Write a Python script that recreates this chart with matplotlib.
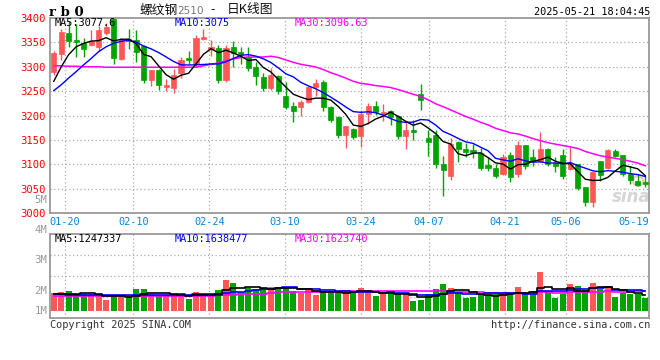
import numpy as np
import pandas as pd
import matplotlib
matplotlib.use("Agg")
import matplotlib.pyplot as plt
from matplotlib.patches import Ellipse

# ---------------- data ----------------
opens = [3290, 3327, 3370, 3355, 3349, 3345, 3341, 3370, 3398, 3316,
         3356, 3355, 3342, 3272, 3293, 3258, 3257, 3287, 3317, 3305,
         3357, 3337, 3338, 3272, 3340, 3331, 3320, 3299, 3280, 3257,
         3281, 3240, 3220, 3217, 3228, 3258, 3268, 3217, 3197, 3161,
         3173, 3158, 3204, 3220, 3204, 3210, 3199, 3158, 3171, 3245,
         3154, 3159, 3101, 3075, 3146, 3131, 3129, 3124, 3098, 3092,
         3081, 3118, 3080, 3139, 3114, 3106, 3131, 3102, 3120, 3090,
         3101, 3053, 3022, 3107, 3092, 3127, 3120, 3081, 3066, 3063]
highs = [3332, 3377, 3393, 3388, 3359, 3375, 3384, 3390, 3402, 3358,
         3377, 3375, 3345, 3294, 3295, 3275, 3295, 3320, 3333, 3365,
         3377, 3354, 3345, 3345, 3353, 3340, 3340, 3310, 3287, 3298,
         3284, 3268, 3227, 3232, 3260, 3275, 3273, 3219, 3198, 3179,
         3175, 3212, 3226, 3230, 3224, 3212, 3202, 3188, 3190, 3265,
         3171, 3171, 3116, 3154, 3147, 3144, 3141, 3133, 3114, 3100,
         3121, 3125, 3148, 3139, 3131, 3166, 3134, 3114, 3131, 3135,
         3101, 3053, 3085, 3107, 3131, 3131, 3120, 3097, 3080, 3075]
lows = [3283, 3313, 3340, 3319, 3320, 3343, 3332, 3366, 3306, 3314,
        3336, 3310, 3266, 3260, 3253, 3250, 3247, 3277, 3305, 3300,
        3355, 3322, 3267, 3269, 3300, 3305, 3292, 3262, 3250, 3252,
        3245, 3213, 3186, 3200, 3226, 3241, 3209, 3187, 3153, 3133,
        3152, 3135, 3183, 3202, 3188, 3180, 3151, 3131, 3149, 3212,
        3117, 3093, 3034, 3067, 3104, 3114, 3112, 3088, 3087, 3072,
        3078, 3064, 3073, 3090, 3097, 3104, 3097, 3085, 3070, 3088,
        3047, 3015, 3013, 3066, 3090, 3114, 3075, 3059, 3056, 3053]
closes = [3329, 3371, 3352, 3351, 3337, 3352, 3376, 3382, 3317, 3355,
          3353, 3330, 3272, 3293, 3262, 3262, 3283, 3313, 3313, 3358,
          3361, 3340, 3272, 3339, 3329, 3327, 3297, 3282, 3257, 3283,
          3251, 3218, 3209, 3227, 3258, 3266, 3217, 3190, 3161, 3178,
          3156, 3203, 3220, 3207, 3208, 3197, 3158, 3171, 3166, 3231,
          3146, 3101, 3089, 3141, 3131, 3126, 3126, 3093, 3093, 3076,
          3114, 3074, 3139, 3097, 3106, 3131, 3100, 3097, 3076, 3100,
          3051, 3022, 3085, 3078, 3129, 3117, 3081, 3068, 3058, 3059]
# volume in millions of lots
volumes = [1.67, 1.76, 1.85, 1.52, 1.52, 1.52, 1.52, 1.00, 1.36, 1.36,
           1.30, 2.00, 2.00, 1.52, 1.36, 1.45, 1.55, 1.36, 1.12, 1.73,
           1.52, 1.55, 1.91, 2.82, 2.55, 1.70, 2.15, 2.00, 2.06, 2.18,
           2.18, 2.18, 1.85, 1.67, 2.09, 1.45, 1.70, 1.67, 1.64, 1.91,
           1.67, 2.09, 1.82, 1.36, 1.55, 1.61, 1.55, 1.52, 0.91, 1.03,
           1.55, 2.00, 2.45, 2.09, 1.67, 1.21, 1.27, 1.55, 1.48, 1.52,
           1.58, 1.52, 2.18, 1.67, 1.82, 3.55, 1.82, 1.21, 1.52, 2.45,
           2.27, 1.91, 2.55, 2.06, 2.27, 1.30, 1.61, 1.52, 1.52, 1.21]

# moving-average values before enough bars exist
ma5_head = [3270, 3300, 3325, 3341]
ma10_head = [3251, 3263, 3277, 3290, 3304, 3317, 3331, 3341, 3348]
ma30_head = [3302, 3302, 3301, 3301, 3300, 3300, 3300, 3299, 3299, 3299,
             3299, 3299, 3299, 3299, 3299, 3299, 3299, 3299, 3299, 3299,
             3302, 3305, 3308, 3312, 3316, 3319, 3320, 3320, 3320]
vma5_head = [1.52, 1.52, 1.52, 1.52]
vma10_head = [1.52, 1.52, 1.50, 1.50, 1.48, 1.47, 1.46, 1.45, 1.44]
vma30_head = [1.42] * 22 + [1.45, 1.48, 1.50, 1.52, 1.54, 1.55, 1.56]

holidays = ["2025-01-28", "2025-01-29", "2025-01-30", "2025-01-31",
            "2025-02-03", "2025-02-04", "2025-04-04", "2025-05-01",
            "2025-05-02", "2025-05-05"]
tick_dates = ["2025-01-20", "2025-02-10", "2025-02-24", "2025-03-10",
              "2025-03-24", "2025-04-07", "2025-04-21", "2025-05-06",
              "2025-05-19"]
y_ticks = [3000, 3050, 3100, 3150, 3200, 3250, 3300, 3350, 3400]

title_main = "螺纹钢"
title_code = "2510"
title_dash = "-"
title_tail = "日K线图"
symbol = "r b 0"
stamp = "2025-05-21 18:04:45"
price_ma_text = ["MA5:3077.6", "MA10:3075", "MA30:3096.63"]
vol_ma_text = ["MA5:1247337", "MA10:1638477", "MA30:1623740"]
vol_labels = ["5M", "4M", "3M", "2M", "1M"]

# ---------------- derived series ----------------
def rolling_with_head(values, n, head):
    s = pd.Series(values, dtype=float).rolling(n).mean().to_numpy()
    s[:len(head)] = head
    return s

ma5 = rolling_with_head(closes, 5, ma5_head)
ma10 = rolling_with_head(closes, 10, ma10_head)
ma30 = rolling_with_head(closes, 30, ma30_head)
vma5 = rolling_with_head(volumes, 5, vma5_head)
vma10 = rolling_with_head(volumes, 10, vma10_head)
vma30 = rolling_with_head(volumes, 30, vma30_head)

days = pd.bdate_range("2025-01-16", "2025-05-21")
days = days[~days.isin(pd.to_datetime(holidays))]
n = len(closes)
x = np.arange(n)
tick_idx = np.array([int(days.get_loc(pd.Timestamp(d))) for d in tick_dates])
# the site's date grid uses an (n-1)-slot scale across the same width
grid_x = tick_idx * n / (n - 1) - 0.5
tick_lab = [pd.Timestamp(d).strftime("%m-%d") for d in tick_dates]

# ---------------- style ----------------
W, H = 660, 360
RED = "#ff5757"
GREEN = "#00a300"
FRAME = "#999999"
GRID = "#aaaaaa"
MONO = "DejaVu Sans Mono"
CJK = ["Noto Sans CJK SC", "DejaVu Sans"]

def P(px, py):
    return px / W, 1 - py / H

fig = plt.figure(figsize=(W / 100, H / 100), dpi=100, facecolor="white")
ax = fig.add_axes([50 / W, 1 - 213 / H, 599 / W, 195 / H])
axv = fig.add_axes([50 / W, 1 - 317.7 / H, 599 / W, 83.4 / H])

for a in (ax, axv):
    for sp in a.spines.values():
        sp.set_color(FRAME)
        sp.set_linewidth(1.3)
    a.set_xlim(-0.5, n - 0.5)
    a.set_facecolor("white")

# ---- price panel ----
ax.set_ylim(3000, 3400)
ax.set_yticks(y_ticks)
ax.set_yticklabels([str(v) for v in y_ticks], family=MONO, fontsize=7.6, color="#ff0000")
ax.tick_params(axis="y", length=0, pad=3)
for v in y_ticks[1:-1]:
    ax.axhline(v, color=GRID, lw=0.9, ls=(0, (1, 2)), zorder=0)
for p in grid_x[:-1]:
    ax.axvline(p, color=GRID, lw=0.9, ls=(0, (1, 2)), zorder=0)
ax.set_xticks(grid_x)
ax.set_xticklabels(tick_lab, family=MONO, fontsize=7.4, color="#0a86d6")
ax.tick_params(axis="x", length=0, pad=3)

# watermark behind the candles
ax.add_patch(Ellipse(P(638, 181), 10 / W, 10 / H, transform=fig.transFigure,
                     facecolor="none", edgecolor="#e2c8c8", lw=1.5, zorder=1))
ax.text(*P(631, 197), "sina", transform=fig.transFigure, family="DejaVu Sans",
        fontstyle="italic", fontweight="bold", fontsize=12, color="#d6d6d6",
        va="center", ha="center", zorder=1)

colors = [RED if c >= o else GREEN for o, c in zip(opens, closes)]
ax.vlines(x, lows, highs, colors=colors, lw=1.0, zorder=2)
bottoms = np.minimum(opens, closes)
heights = np.maximum(np.abs(np.array(closes) - np.array(opens)), 0.6)
ax.bar(x, heights, bottom=bottoms, width=0.68, color=colors, edgecolor=colors,
       linewidth=0.5, zorder=3)

ax.plot(x, ma30, color="#ff00ff", lw=1.1, zorder=4)
ax.plot(x, ma10, color="#0000ff", lw=1.0, zorder=4)
ax.plot(x, ma5, color="#000000", lw=1.0, zorder=4)

# ---- volume panel ----
v_lo, v_hi = -0.615, 7.04
axv.set_ylim(v_lo, v_hi)
axv.set_yticks([])
axv.set_xticks([])
for f in (0.25, 0.5, 0.75):
    axv.axhline(v_lo + (v_hi - v_lo) * f, color=GRID, lw=0.9, ls=(0, (1, 2)), zorder=0)
for p in grid_x[:-1]:
    axv.axvline(p, color=GRID, lw=0.9, ls=(0, (1, 2)), zorder=0)
axv.bar(x, volumes, width=0.8, color=colors, linewidth=0, zorder=2)
axv.plot(x, vma30, color="#ff00ff", lw=1.2, drawstyle="steps-mid", zorder=3)
axv.plot(x, vma10, color="#0000ff", lw=1.2, drawstyle="steps-mid", zorder=3)
axv.plot(x, vma5, color="#000000", lw=1.2, drawstyle="steps-mid", zorder=3)

# ---- texts ----
fig.text(*P(49, 12), symbol, family="DejaVu Serif", fontweight="bold", fontsize=9.5,
         va="center", ha="left")
fig.text(*P(140, 10), title_main, family=CJK, fontsize=9.2, va="center", ha="left",
         color="#111111")
fig.text(*P(177, 11), title_code, family="DejaVu Sans", fontsize=7.6, va="center",
         ha="left", color="#777777")
fig.text(*P(213, 10), title_dash, family="DejaVu Sans", fontsize=8.5, va="center",
         ha="center", color="#111111")
fig.text(*P(227, 10), title_tail, family=CJK, fontsize=9.2, va="center", ha="left",
         color="#111111")
fig.text(*P(650, 12), stamp, family=MONO, fontsize=7.4, va="center", ha="right")

ma_cols = ["#000000", "#0000ff", "#ff00ff"]
for t, px, c in zip(price_ma_text, (55, 175, 295), ma_cols):
    fig.text(*P(px, 23.5), t, family=MONO, fontsize=7.4, color=c, va="center", ha="left")
for t, px, c in zip(vol_ma_text, (55, 175, 295), ma_cols):
    fig.text(*P(px, 239.5), t, family=MONO, fontsize=7.4, color=c, va="center", ha="left")
for t, py in zip(vol_labels, (200, 230, 260, 290.5, 311)):
    fig.text(*P(47, py), t, family=MONO, fontsize=7.6, color="#999999", va="center", ha="right")

fig.text(*P(50, 324.5), "Copyright 2025 SINA.COM", family=MONO, fontsize=7.4,
         color="#333333", va="center", ha="left")
fig.text(*P(650, 324.5), "http://finance.sina.com.cn", family=MONO, fontsize=7.4,
         color="#333333", va="center", ha="right")

fig.savefig("out.png", dpi=100, facecolor="white")
